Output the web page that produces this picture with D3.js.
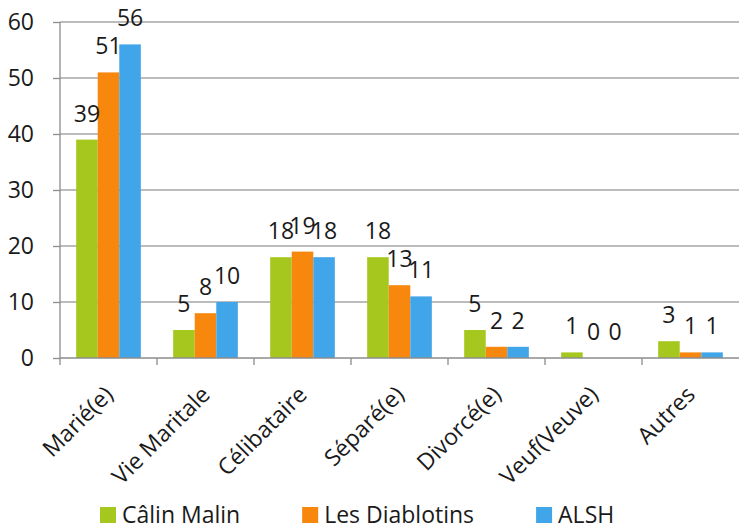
<!DOCTYPE html>
<html>
<head>
<meta charset="utf-8">
<script src="https://cdn.jsdelivr.net/npm/d3@7"></script>
<style>
  body { margin: 0; background: #fff; }
  svg text { font-family: "Open Sans", sans-serif; fill: #1a1a1a; }
</style>
</head>
<body>
<svg id="chart" width="739" height="529"></svg>
<script>
let categories = ["Marié(e)", "Vie Maritale", "Célibataire", "Séparé(e)", "Divorcé(e)", "Veuf(Veuve)", "Autres"];
let seriesNames = ["Câlin Malin", "Les Diablotins", "ALSH"];
let calinMalin = [39, 5, 18, 18, 5, 1, 3];
let lesDiablotins = [51, 8, 19, 13, 2, 0, 1];
let alsh = [56, 10, 18, 11, 2, 0, 1];
let yTicks = [0, 10, 20, 30, 40, 50, 60];
let colors = ["#a6c81e", "#f8870e", "#41a5e9"];

let seriesValues = [calinMalin, lesDiablotins, alsh];

let svg = d3.select("#chart");
let plotLeft = 60, plotRight = 739, plotTop = 22, plotBottom = 358;

let x = d3.scaleBand()
    .domain(categories)
    .range([plotLeft, plotRight])
    .padding(0);

let xSub = d3.scaleBand()
    .domain(seriesNames)
    .range([0, x.bandwidth()])
    .paddingInner(0)
    .paddingOuter(0.75);

let y = d3.scaleLinear()
    .domain([0, 60])
    .range([plotBottom, plotTop]);

// gridlines
svg.append("g")
    .selectAll("line")
    .data(yTicks.filter(function(d) { return d > 0; }))
    .enter().append("line")
    .attr("x1", plotLeft)
    .attr("x2", plotRight)
    .attr("y1", function(d) { return y(d); })
    .attr("y2", function(d) { return y(d); })
    .attr("stroke", "#a6a6a6")
    .attr("stroke-width", 1.3);

// bars
let rows = [];
categories.forEach(function(c, i) {
    seriesNames.forEach(function(s, j) {
        rows.push({cat: c, name: s, value: seriesValues[j][i], color: colors[j]});
    });
});

svg.append("g")
    .selectAll("rect")
    .data(rows)
    .enter().append("rect")
    .attr("x", function(d) { return x(d.cat) + xSub(d.name); })
    .attr("y", function(d) { return y(d.value); })
    .attr("width", xSub.bandwidth())
    .attr("height", function(d) { return y(0) - y(d.value); })
    .attr("fill", function(d) { return d.color; });

// value labels
svg.append("g")
    .selectAll("text")
    .data(rows)
    .enter().append("text")
    .attr("x", function(d) { return x(d.cat) + xSub(d.name) + xSub.bandwidth()/2; })
    .attr("y", function(d) { return y(d.value) - 18; })
    .style("text-anchor", "middle")
    .style("font-size", "23px")
    .text(function(d) { return d.value; });

// y axis
let yAxis = svg.append("g")
    .attr("transform", "translate(" + plotLeft + ",0)")
    .call(d3.axisLeft(y).tickValues(yTicks).tickSize(7).tickPadding(19));
yAxis.selectAll("text").style("font-size", "23px").attr("fill", "#1a1a1a");
yAxis.selectAll("line, path").attr("stroke", "#8c8c8c").attr("stroke-width", 1.3);
yAxis.select(".domain").attr("d", "M0," + plotTop + "V" + plotBottom);

// x axis
let xAxis = svg.append("g")
    .attr("transform", "translate(0," + plotBottom + ")");
xAxis.append("line")
    .attr("x1", plotLeft).attr("x2", plotRight)
    .attr("stroke", "#8c8c8c").attr("stroke-width", 1.3);
xAxis.selectAll(".tk")
    .data(categories)
    .enter().append("line")
    .attr("class", "tk")
    .attr("x1", function(d) { return x(d); })
    .attr("x2", function(d) { return x(d); })
    .attr("y1", 0).attr("y2", 7)
    .attr("stroke", "#8c8c8c").attr("stroke-width", 1.3);
xAxis.selectAll(".lbl")
    .data(categories)
    .enter().append("text")
    .attr("class", "lbl")
    .attr("transform", function(d) {
        return "translate(" + (x(d) + x.bandwidth()/2 + 6) + ",38) rotate(-45)";
    })
    .style("text-anchor", "end")
    .style("font-size", "23px")
    .text(function(d) { return d; });

// legend
let legend = svg.append("g");
let lx = 100;
seriesNames.forEach(function(s, j) {
    legend.append("rect")
        .attr("x", lx).attr("y", 507)
        .attr("width", 16).attr("height", 16)
        .attr("fill", colors[j]);
    let t = legend.append("text")
        .attr("x", lx + 22).attr("y", 523)
        .style("font-size", "23px")
        .text(s);
    lx += 22 + t.node().getComputedTextLength() + 62;
});
</script>
</body>
</html>
